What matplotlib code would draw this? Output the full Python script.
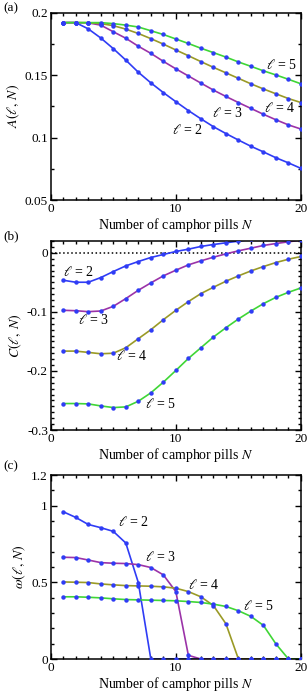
import numpy as np
import matplotlib
matplotlib.use("Agg")
import matplotlib.pyplot as plt
from matplotlib.ticker import MultipleLocator

plt.rcParams['font.family'] = ['Liberation Serif', 'DejaVu Serif']
plt.rcParams['mathtext.fontset'] = 'stix'

N = np.arange(1, 21)
ells = [2, 3, 4, 5]

A2 = [0.192, 0.192, 0.187, 0.1797, 0.1712, 0.162, 0.1523, 0.1438, 0.136, 0.1287,
      0.1216, 0.115, 0.1087, 0.1032, 0.098, 0.093, 0.0885, 0.0838, 0.0797, 0.0753]
A3 = [0.192, 0.192, 0.1918, 0.190, 0.1847, 0.1795, 0.1731, 0.1674, 0.161, 0.155,
      0.1493, 0.1436, 0.138, 0.1329, 0.128, 0.1233, 0.1186, 0.1142, 0.1101, 0.1068]
A4 = [0.192, 0.192, 0.192, 0.1912, 0.1896, 0.1868, 0.1833, 0.1792, 0.1748, 0.1701,
      0.1655, 0.1608, 0.1562, 0.1518, 0.1474, 0.143, 0.1389, 0.135, 0.1312, 0.128]
A5 = [0.192, 0.192, 0.192, 0.192, 0.1912, 0.190, 0.1885, 0.1855, 0.1825, 0.1789,
      0.1753, 0.1715, 0.168, 0.1644, 0.1605, 0.157, 0.1534, 0.1501, 0.1466, 0.143]

C2 = [-0.0464, -0.0498, -0.0498, -0.0419, -0.0317, -0.0221, -0.0147, -0.0079, -0.0028, 0.0023,
      0.0062, 0.0108, 0.0141, 0.017, 0.0198, 0.023, 0.026, 0.029, 0.031, 0.033]
C3 = [-0.0973, -0.098, -0.0996, -0.0985, -0.0906, -0.0775, -0.0634, -0.0509, -0.039, -0.0294,
      -0.0204, -0.0136, -0.0074, -0.0017, 0.0034, 0.0079, 0.0125, 0.0158, 0.0187, 0.0215]
C4 = [-0.1664, -0.1664, -0.1686, -0.1709, -0.170, -0.1607, -0.1454, -0.1302, -0.1132, -0.0973,
      -0.0826, -0.069, -0.0583, -0.0481, -0.039, -0.0306, -0.0232, -0.0164, -0.0108, -0.0062]
C5 = [-0.2552, -0.2552, -0.2558, -0.2592, -0.262, -0.2609, -0.2513, -0.2371, -0.219, -0.1992,
      -0.1788, -0.1607, -0.1426, -0.1268, -0.112, -0.0985, -0.086, -0.0753, -0.0668, -0.0594]

W2 = [0.961, 0.924, 0.878, 0.857, 0.833, 0.757, 0.499, 0, 0, 0,
      0, 0, 0, 0, 0, 0, 0, 0, 0, 0]
W3 = [0.664, 0.662, 0.646, 0.629, 0.625, 0.623, 0.616, 0.597, 0.549, 0.44,
      0.024, 0, 0, 0, 0, 0, 0, 0, 0, 0]
W4 = [0.503, 0.501, 0.499, 0.49, 0.484, 0.479, 0.477, 0.475, 0.471, 0.462,
      0.44, 0.406, 0.349, 0.23, 0, 0, 0, 0, 0, 0]
W5 = [0.406, 0.406, 0.403, 0.399, 0.393, 0.388, 0.386, 0.384, 0.382, 0.38,
      0.375, 0.369, 0.358, 0.343, 0.315, 0.278, 0.219, 0.098, 0, 0]

line_colors = ['#2f3cf5', '#9b33a8', '#9a9a26', '#3fd636']
marker_color = '#2f3cf5'

fig = plt.figure(figsize=(3.08, 6.94), dpi=100)
ax_a = fig.add_axes([0.1646, 0.7118, 0.8127, 0.2700])
ax_b = fig.add_axes([0.1646, 0.3804, 0.8127, 0.2723])
ax_c = fig.add_axes([0.1646, 0.0504, 0.8127, 0.2650])

fs = 9.5

def style(ax):
    ax.set_xlim(0, 20)
    ax.xaxis.set_major_locator(MultipleLocator(10))
    ax.xaxis.set_minor_locator(MultipleLocator(1))
    ax.tick_params(which='both', direction='in', top=True, right=True, labelsize=fs, width=1, pad=2)
    ax.tick_params(which='major', length=4)
    ax.tick_params(which='minor', length=2.5)
    for s in ax.spines.values():
        s.set_linewidth(1.1)
    ax.set_xlabel('Number of camphor pills $N$', fontsize=fs + 0.5, labelpad=1)

def plot_series(ax, series):
    for ys, col in zip(series, line_colors):
        ax.plot(N, ys, '-', color=col, lw=1.2, zorder=2)
    for ys in series:
        ax.plot(N, ys, 'o', color=marker_color, ms=3.2, mew=0, zorder=3)

# (a)
plot_series(ax_a, [A2, A3, A4, A5])
style(ax_a)
ax_a.set_ylim(0.05, 0.2)
ax_a.set_yticks([0.05, 0.1, 0.15, 0.2])
ax_a.set_yticklabels(['0.05', '0.1', '0.15', '0.2'])
ax_a.yaxis.set_minor_locator(MultipleLocator(0.025))
ax_a.set_ylabel(r'$A(\ell,\, N)$', fontsize=fs + 0.5, labelpad=2)
for x, y, l in [(10.9, 0.1063, 2), (14.1, 0.12, 3), (18.3, 0.1233, 4), (18.45, 0.1583, 5)]:
    ax_a.text(x, y, r'$\ell$ = %d' % l, fontsize=fs + 0.5, ha='center', va='center')

# (b)
ax_b.axhline(0, color='black', ls=':', lw=1.1, zorder=1)
plot_series(ax_b, [C2, C3, C4, C5])
style(ax_b)
ax_b.set_ylim(-0.3, 0.02)
ax_b.set_yticks([-0.3, -0.2, -0.1, 0])
ax_b.set_yticklabels(['-0.3', '-0.2', '-0.1', '0'])
ax_b.yaxis.set_minor_locator(MultipleLocator(0.01))
ax_b.set_ylabel(r'$C(\ell,\, N)$', fontsize=fs + 0.5, labelpad=2)
for x, y, l in [(2.2, -0.0323, 2), (3.4, -0.1132, 3), (6.5, -0.1754, 4), (8.75, -0.2558, 5)]:
    ax_b.text(x, y, r'$\ell$ = %d' % l, fontsize=fs + 0.5, ha='center', va='center')

# (c)
plot_series(ax_c, [W2, W3, W4, W5])
style(ax_c)
ax_c.set_ylim(0, 1.2)
ax_c.set_yticks([0, 0.5, 1, 1.2])
ax_c.set_yticklabels(['0', '0.5', '1', '1.2'])
ax_c.yaxis.set_minor_locator(MultipleLocator(0.1))
ax_c.set_ylabel(r'$\omega(\ell,\, N)$', fontsize=fs + 0.5, labelpad=2)
for x, y, l in [(6.6, 0.896, 2), (8.75, 0.664, 3), (12.2, 0.484, 4), (16.6, 0.347, 5)]:
    ax_c.text(x, y, r'$\ell$ = %d' % l, fontsize=fs + 0.5, ha='center', va='center')

for lab, ypix in [('(a)', 8), ('(b)', 236), ('(c)', 466)]:
    fig.text(3 / 308, 1 - ypix / 694, lab, fontsize=fs, ha='left', va='center')

fig.savefig('out.png', dpi=100)
